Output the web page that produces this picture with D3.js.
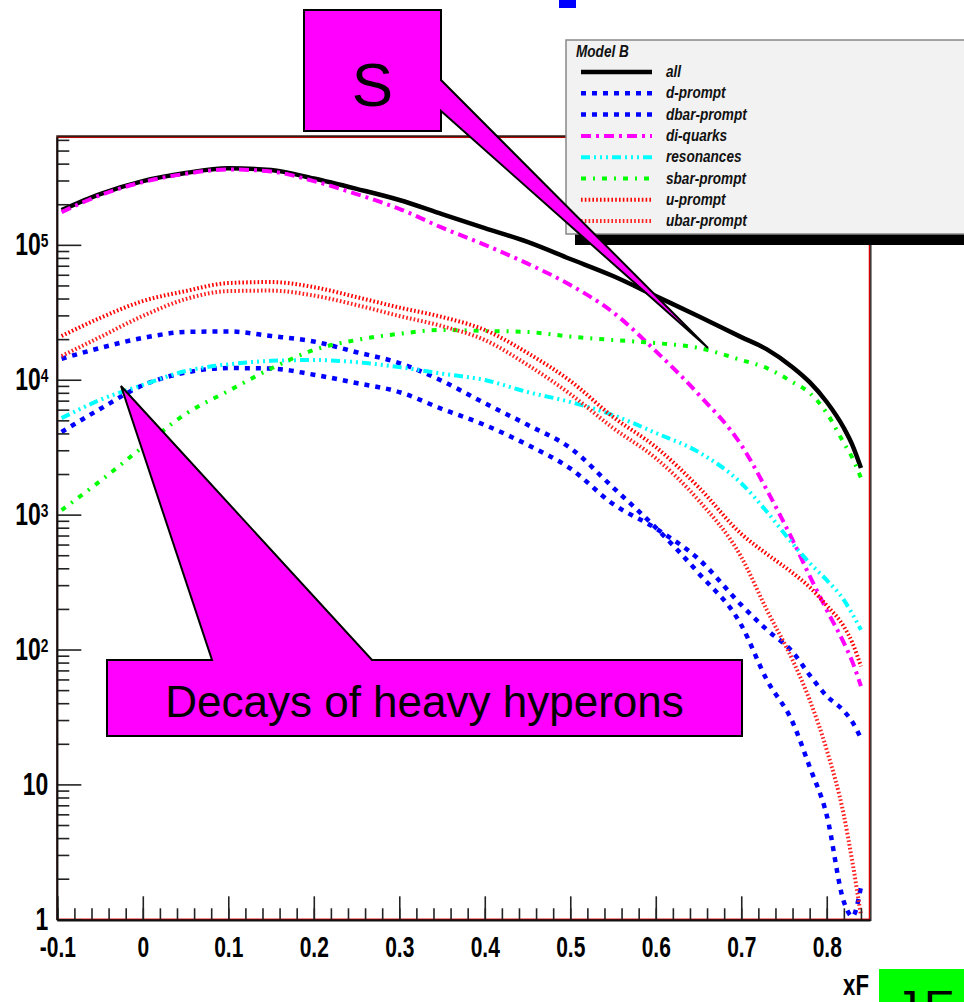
<!DOCTYPE html>
<html>
<head>
<meta charset="utf-8">
<script src="https://cdn.jsdelivr.net/npm/d3@7"></script>
<style>
  body { margin: 0; background: #fff; }
  svg { display: block; }
  .num { font-family: "Liberation Sans", Arial, sans-serif; font-weight: bold; fill: #000; }
  .leg { font-family: "Liberation Sans", Arial, sans-serif; font-weight: bold; font-style: italic; fill: #111; }
  .note { font-family: "Liberation Sans", Arial, sans-serif; fill: #000; }
</style>
</head>
<body>
<svg id="chart" width="964" height="1002"></svg>
<script>
const xF = [-0.095, -0.05, 0, 0.05, 0.1, 0.15, 0.2, 0.25, 0.3, 0.35, 0.4, 0.45, 0.5, 0.55, 0.6, 0.65, 0.7, 0.73, 0.76, 0.78, 0.8, 0.82, 0.83, 0.84];

const allVals    = [1.81e5, 2.38e5, 2.97e5, 3.41e5, 3.69e5, 3.59e5, 3.10e5, 2.60e5, 2.15e5, 1.69e5, 1.33e5, 1.05e5, 7.85e4, 5.87e4, 4.17e4, 2.96e4, 2.07e4, 1.68e4, 1.24e4, 9.6e3, 6.84e3, 4.39e3, 3.28e3, 2.22e3];
const dPrompt    = [1.43e4, 1.72e4, 2.04e4, 2.26e4, 2.28e4, 2.11e4, 1.92e4, 1.60e4, 1.33e4, 9.8e3, 6.7e3, 4.63e3, 3.12e3, 1.59e3, 800, 369, 152, 59.4, 29, 13.5, 5.9, 1.35, 1.05, 1.74];
const dbarPrompt = [4.1e3, 6.07e3, 9.1e3, 1.13e4, 1.22e4, 1.21e4, 1.09e4, 9.45e3, 8.1e3, 6.07e3, 4.62e3, 3.29e3, 2.2e3, 1.2e3, 790, 469, 214, 140, 96, 64.7, 45.2, 35, 29, 22];
const diQuarks   = [1.75e5, 2.33e5, 2.92e5, 3.36e5, 3.62e5, 3.50e5, 2.97e5, 2.38e5, 1.85e5, 1.34e5, 1.0e5, 7.26e4, 5.04e4, 3.16e4, 1.63e4, 7.8e3, 3.28e3, 1.52e3, 649, 351, 196, 112, 81, 53.6];
const resonances = [5.19e3, 7.08e3, 9.15e3, 1.16e4, 1.30e4, 1.38e4, 1.40e4, 1.35e4, 1.24e4, 1.11e4, 9.95e3, 8.11e3, 6.84e3, 5.47e3, 4.03e3, 2.91e3, 1.71e3, 1.05e3, 610, 438, 327, 233, 183, 140];
const sbarPrompt = [1.08e3, 1.77e3, 3.17e3, 5.57e3, 8.25e3, 1.21e4, 1.66e4, 1.97e4, 2.19e4, 2.34e4, 2.30e4, 2.26e4, 2.09e4, 1.97e4, 1.87e4, 1.72e4, 1.40e4, 1.22e4, 9.6e3, 7.98e3, 5.66e3, 3.39e3, 2.63e3, 1.87e3];
const uPrompt    = [2.11e4, 2.87e4, 3.83e4, 4.54e4, 5.21e4, 5.30e4, 4.86e4, 4.10e4, 3.43e4, 2.92e4, 2.34e4, 1.58e4, 9.8e3, 5.3e3, 3.17e3, 1.6e3, 720, 510, 370, 290, 212, 148, 112, 75];
const ubarPrompt = [1.50e4, 2.07e4, 2.97e4, 3.96e4, 4.54e4, 4.58e4, 4.21e4, 3.58e4, 2.97e4, 2.50e4, 1.97e4, 1.29e4, 7.84e3, 4.39e3, 2.62e3, 1.28e3, 485, 196, 83.6, 42.3, 18, 5.9, 2.66, 1.07];

const seriesNames = ["all", "d-prompt", "dbar-prompt", "di-quarks", "resonances", "sbar-prompt", "u-prompt", "ubar-prompt"];
const seriesValues = [allVals, dPrompt, dbarPrompt, diQuarks, resonances, sbarPrompt, uPrompt, ubarPrompt];

const xTicks = [-0.1, 0, 0.1, 0.2, 0.3, 0.4, 0.5, 0.6, 0.7, 0.8];
const yTicks = [1, 10, 100, 1000, 10000, 100000];
const legendTitle = "Model B";
const noteS = "S";
const noteDecays = "Decays of heavy hyperons";

// line styles, one per series
const styles = {
  "all":         { color: "#000000", width: 4.5, dash: null },
  "d-prompt":    { color: "#0000ff", width: 4.5, dash: "5,6" },
  "dbar-prompt": { color: "#0000ff", width: 4.5, dash: "5,6" },
  "di-quarks":   { color: "#ff00ff", width: 4, dash: "10,5,3,5" },
  "resonances":  { color: "#00ffff", width: 4, dash: "9,4,2,4,2,4,2,4" },
  "sbar-prompt": { color: "#00ff00", width: 4, dash: "5,7,2,7" },
  "u-prompt":    { color: "#ff0000", width: 4, dash: "1.6,2.2" },
  "ubar-prompt": { color: "#ff2020", width: 4, dash: "1.6,2.2" }
};

// narrow the Helvetica-like text the way the original renderer does
function squeeze(sel, s) {
  sel.each(function() {
    const t = d3.select(this);
    const x0 = +t.attr("x") || 0, y0 = +t.attr("y") || 0;
    t.attr("x", null).attr("y", null)
      .attr("transform", "translate(" + x0 + "," + y0 + ") scale(" + s + ",1)");
  });
}

const svg = d3.select("#chart");

const x = d3.scaleLinear().domain([-0.1, 0.85]).range([57.3, 869.5]);
const y = d3.scaleLog().domain([1, 6.27e5]).range([919.3, 137.3]);

// frame
svg.append("rect")
  .attr("x", x(-0.1)).attr("y", y(6.27e5))
  .attr("width", x(0.85) - x(-0.1)).attr("height", y(1) - y(6.27e5))
  .attr("fill", "#fff").attr("stroke", "#dd0000").attr("stroke-width", 1.5);

svg.append("line").attr("x1", x(-0.1) - 1).attr("x2", x(0.85) + 1).attr("y1", 136.3).attr("y2", 136.3)
  .attr("stroke", "#3a1c14").attr("stroke-width", 2);
svg.append("line").attr("x1", x(0.85) + 1.3).attr("x2", x(0.85) + 1.3).attr("y1", 136).attr("y2", 921)
  .attr("stroke", "#333").attr("stroke-width", 1.5);

// curves
svg.append("clipPath").attr("id", "plotclip").append("rect")
  .attr("x", x(-0.1)).attr("y", y(6.27e5))
  .attr("width", x(0.85) - x(-0.1)).attr("height", y(1) - y(6.27e5) + 3);

const line = d3.line()
  .x(function(d, i) { return x(xF[i]); })
  .y(function(d) { return y(d); })
  .curve(d3.curveMonotoneX);

svg.append("g").attr("clip-path", "url(#plotclip)")
  .selectAll("path")
  .data(seriesNames)
  .enter()
  .append("path")
  .attr("d", function(name, i) { return line(seriesValues[i]); })
  .attr("fill", "none")
  .attr("stroke", function(name) { return styles[name].color; })
  .attr("stroke-width", function(name) { return styles[name].width; })
  .attr("stroke-dasharray", function(name) { return styles[name].dash; })
  .attr("stroke-linejoin", "round");

// x axis
const xMinor = d3.range(-5, 43).map(function(k) { return k * 0.02; });
const gxMinor = svg.append("g").attr("transform", "translate(0," + y(1) + ")")
  .call(d3.axisBottom(x).tickValues(xMinor).tickSize(-11).tickFormat(""));
const gx = svg.append("g").attr("transform", "translate(0," + y(1) + ")")
  .call(d3.axisBottom(x).tickValues(xTicks).tickSize(-23).tickPadding(16)
    .tickFormat(function(d) { return Math.abs(d) < 1e-9 ? "0" : d.toFixed(1); }));

// y axis
const yMinor = [];
yTicks.forEach(function(t) {
  for (let k = 2; k <= 9; k++) if (t * k <= 6.27e5) yMinor.push(t * k);
});
const gyMinor = svg.append("g").attr("transform", "translate(" + x(-0.1) + ",0)")
  .call(d3.axisLeft(y).tickValues(yMinor).tickSize(-12).tickFormat(""));
const gy = svg.append("g").attr("transform", "translate(" + x(-0.1) + ",0)")
  .call(d3.axisLeft(y).tickValues(yTicks).tickSize(-24).tickPadding(9)
    .tickFormat(function(d) { return d < 100 ? String(d) : "10"; }));

gy.selectAll(".tick text").each(function(d) {
  const e = Math.round(Math.log10(d));
  if (e >= 2) {
    d3.select(this).append("tspan").attr("dy", "-0.42em").attr("font-size", "0.6em").text(e);
  }
});

[gx, gxMinor, gy, gyMinor].forEach(function(g) {
  g.select(".domain").remove();
  g.selectAll(".tick line").attr("stroke", "#222").attr("stroke-width", 1.6);
});
gx.selectAll(".tick text").attr("class", "num").attr("font-size", 30).attr("fill", "#000").call(squeeze, 0.7);
gy.selectAll(".tick text").attr("class", "num").attr("font-size", 31).attr("fill", "#000").call(squeeze, 0.74);

// black axis lines (left, bottom)
svg.append("line").attr("x1", x(-0.1)).attr("x2", x(-0.1)).attr("y1", y(6.27e5)).attr("y2", y(1) + 1)
  .attr("stroke", "#111").attr("stroke-width", 2.2);
svg.append("line").attr("x1", x(-0.1)).attr("x2", x(0.85) + 1).attr("y1", y(1) + 1).attr("y2", y(1) + 1)
  .attr("stroke", "#111").attr("stroke-width", 2.2);

svg.append("text").attr("class", "num").attr("font-size", 30)
  .attr("x", 869).attr("y", 995).attr("text-anchor", "end").text("xF").call(squeeze, 0.74);

// legend
const leg = svg.append("g");
leg.append("rect").attr("x", 575).attr("y", 234).attr("width", 389).attr("height", 11).attr("fill", "#000");
leg.append("rect").attr("x", 566).attr("y", 40).attr("width", 400).attr("height", 194)
  .attr("fill", "#f2f2f2").attr("stroke", "#888").attr("stroke-width", 1.5);
leg.append("text").attr("class", "leg").attr("font-size", 17)
  .attr("x", 576).attr("y", 57).text(legendTitle).call(squeeze, 0.8);

const rows = leg.selectAll("g.row").data(seriesNames).enter().append("g")
  .attr("transform", function(d, i) { return "translate(0," + (72 + i * 21.3) + ")"; });
rows.append("line")
  .attr("x1", 581).attr("x2", 652).attr("y1", 0).attr("y2", 0)
  .attr("stroke", function(d) { return styles[d].color; })
  .attr("stroke-width", function(d) { return styles[d].width; })
  .attr("stroke-dasharray", function(d) { return styles[d].dash; });
rows.append("text").attr("class", "leg").attr("font-size", 17)
  .attr("x", 666).attr("y", 5).text(function(d) { return d; }).call(squeeze, 0.8);

// callout boxes
svg.append("path")
  .attr("d", "M304,10 L441,10 L441,80 L708,348 L441,111 L441,131 L304,131 Z")
  .attr("fill", "#ff00ff").attr("stroke", "#000").attr("stroke-width", 2);
svg.append("text").attr("class", "note").attr("font-size", 62)
  .attr("x", 372.5).attr("y", 106).attr("text-anchor", "middle").text(noteS);

svg.append("path")
  .attr("d", "M107,660 L212,660 L121,386 L372,660 L742,660 L742,736 L107,736 Z")
  .attr("fill", "#ff00ff").attr("stroke", "#000").attr("stroke-width", 2);
svg.append("text").attr("class", "note").attr("font-size", 44)
  .attr("x", 424.5).attr("y", 717).attr("text-anchor", "middle").text(noteDecays);

// small marks at the page edges
svg.append("rect").attr("x", 559).attr("y", 0).attr("width", 17).attr("height", 8).attr("fill", "#0000ff");
svg.append("rect").attr("x", 879).attr("y", 969).attr("width", 85).attr("height", 33).attr("fill", "#00ff00");
svg.append("text").attr("class", "note").attr("font-size", 46).attr("letter-spacing", 6)
  .attr("x", 895).attr("y", 1023).text("JE");
</script>
</body>
</html>
